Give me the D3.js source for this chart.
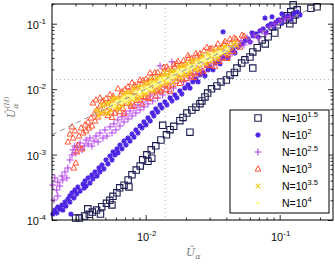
<!DOCTYPE html>
<html><head><meta charset="utf-8">
<script src="https://cdn.jsdelivr.net/npm/d3@7"></script>
<style>body{margin:0;background:#fff}svg{display:block}</style>
</head><body>
<svg id="c" width="335" height="277"></svg>
<script>
// ---- axes / labels ----
const xDomain = [0.002, 0.25];
const yDomain = [1e-4, 0.2];
const xMajorTicks = [0.01, 0.1];
const xMajorExp = ["-2", "-1"];
const yMajorTicks = [1e-4, 1e-3, 1e-2, 1e-1];
const yMajorExp = ["-4", "-3", "-2", "-1"];
const refValue = 0.014;             // dotted reference lines
const seriesExp = ["1.5", "2", "2.5", "3", "3.5", "4"];

// ---- data: [U_alpha, U_alpha^(H)] ----
const n15 = [[.190,.181],[.171,.172],[.126,.194],[.135,.163],[.121,.152],[.130,.136],[.115,.132],[.126,.114],[.110,.114],[.119,.0994],[.1005,.107],[.096,.096],[.088,.090],[.092,.072],[.082,.063],[.074,.0565],[.078,.049],[.068,.043],[.063,.037],[.060,.031],[.055,.028],[.052,.025],[.063,.021],[.048,.021],[.046,.018],[.0426,.0165],[.040,.0138],[.0365,.0129],[.034,.0112],[.031,.0101],[.029,.0087],[.0277,.0076],[.0263,.0066],[.0254,.0060],[.0237,.0053],[.0221,.0048],[.0203,.0043],[.0190,.0037],[.0180,.0033],[.0214,.0022],[.0162,.0027],[.0152,.0024],[.0134,.0028],[.0143,.0020],[.0130,.00167],[.0119,.00136],[.0110,.00118],[.0102,.00099],[.0095,.00083],[.0091,.00067],[.0085,.00058],[.0079,.00049],[.0074,.00041],[.0069,.00034],[.0064,.00031],[.0061,.00026],[.0057,.00023],[.0054,.00020],[.0051,.00018],[.0047,.00016],[.0043,.000142],[.0040,.000132],[.0038,.000122],[.0035,.000115],[.0032,.000107],[.0030,.000107],[.0104,.00079],[.0111,.00088],[.0075,.00032],[.0056,.00017],[.0046,.000123],[.0037,.000148]];

const n20 = [[.00203,1.23e-4],[.00210,1.42e-4],[.00217,1.28e-4],[.00221,1.58e-4],[.00229,1.47e-4],[.00237,1.69e-4],[.00241,1.42e-4],[.00250,1.88e-4],[.00254,1.63e-4],[.00263,2.09e-4],[.00272,1.88e-4],[.00272,2.33e-4],[.00282,2.59e-4],[.00291,2.17e-4],[.00296,2.87e-4],[.00306,2.50e-4],[.00312,3.19e-4],[.00324,2.77e-4],[.00341,3.54e-4],[.00347,3.08e-4],[.00353,3.95e-4],[.00359,3.30e-4],[.00372,4.39e-4],[.00384,3.67e-4],[.00397,4.87e-4],[.00404,4.24e-4],[.00419,5.42e-4],[.00433,4.70e-4],[.00448,6.24e-4],[.00456,5.42e-4],[.00277,1.23e-4],
[.00472,6.93e-4],[.00488,6.03e-4],[.00506,8.27e-4],[.00523,7.18e-4],[.00542,9.51e-4],[.00561,8.27e-4],[.00571,1.10e-3],[.00590,9.85e-4],[.00611,1.22e-3],[.00621,1.06e-3],[.00643,1.40e-3],[.00665,1.22e-3],[.00689,1.61e-3],[.00713,1.40e-3],[.00738,1.79e-3],[.00764,1.61e-3],[.00791,2.06e-3],[.00818,1.85e-3],[.00846,2.38e-3],[.00876,2.14e-3],[.00907,2.74e-3],[.00939,2.55e-3],[.00970,3.15e-3],[.01005,2.84e-3],[.0104,3.63e-3],[.0108,3.26e-3],
[.0112,4.32e-3],[.0115,3.89e-3],[.0119,4.98e-3],[.0123,4.48e-3],[.0128,5.73e-3],[.0132,5.16e-3],[.0139,6.37e-3],[.0144,5.73e-3],[.0152,7.34e-3],[.0157,6.60e-3],[.0165,8.15e-3],[.0171,7.34e-3],[.0180,9.39e-3],[.0186,8.44e-3],[.0196,1.04e-2],[.0207,1.16e-2],[.0214,1.04e-2],[.0225,1.29e-2],[.0237,1.43e-2],[.0246,1.29e-2],[.0254,1.65e-2],[.0268,1.77e-2],[.0277,1.59e-2],[.0292,1.97e-2],[.0302,2.19e-2],[.0318,1.97e-2],[.0329,2.52e-2],[.0346,2.70e-2],[.0359,2.43e-2],[.0378,3.00e-2],[.0391,3.33e-2],[.0412,3.00e-2],[.0426,3.70e-2],[.0449,3.97e-2],[.0464,3.57e-2],[.0488,4.42e-2],[.0506,4.74e-2],
[.0524,4.91e-2],[.0551,5.45e-2],[.0580,5.85e-2],[.0601,5.27e-2],[.0633,6.51e-2],[.0666,6.98e-2],[.0690,6.28e-2],[.0713,7.76e-2],[.0751,8.33e-2],[.0790,7.49e-2],[.0818,9.26e-2],[.0862,9.94e-2],[.0906,8.94e-2],[.0939,.106],[.0988,.114],[.104,.103],[.110,.122],[.115,.131],[.121,.118],[.128,.141],[.135,.151],[.142,.136],
[.0378,7.49e-2],[.0622,7.23e-2],[.0777,.122],[.104,.141],[.0877,.127]];

const n25 = [[.00203,3.42e-4],[.00210,4.39e-4],[.00217,2.87e-4],[.00221,3.80e-4],[.00229,3.30e-4],[.00237,4.70e-4],[.00241,4.09e-4],[.00250,5.42e-4],[.00258,4.39e-4],[.00263,6.24e-4],[.00272,8.27e-4],[.00282,9.85e-4],[.00287,1.18e-3],[.00296,1.35e-3],[.00301,1.06e-3],[.00312,1.27e-3],[.00324,1.50e-3],[.00335,1.18e-3],[.00347,1.35e-3],[.00359,1.67e-3],[.00372,1.45e-3],[.00384,1.79e-3],[.00397,1.35e-3],[.00412,1.61e-3],[.00426,1.92e-3],[.00441,1.56e-3],[.00456,2.14e-3],[.00480,1.79e-3],[.00207,2.02e-4],[.00221,2.33e-4],
[.00497,2.38e-3],[.00514,1.92e-3],[.00542,2.65e-3],[.00561,2.14e-3],[.00580,2.94e-3],[.00600,2.38e-3],[.00621,3.38e-3],[.00643,2.74e-3],[.00665,3.76e-3],[.00689,3.15e-3],[.00713,4.18e-3],[.00738,3.50e-3],[.00764,4.64e-3],[.00791,3.89e-3],[.00818,5.16e-3],[.00846,4.32e-3],[.00876,5.73e-3],[.00907,4.81e-3],[.00939,6.37e-3],[.00970,5.34e-3],[.01005,7.09e-3],[.0104,5.94e-3],[.0108,7.87e-3],[.0113,6.60e-3],[.0117,8.75e-3],[.0123,7.34e-3],[.0128,9.73e-3],[.0134,8.15e-3],[.0139,1.08e-2],[.0147,9.07e-3],[.0152,1.20e-2],[.0161,1.04e-2],[.0165,1.38e-2],
[.0174,1.38e-2],[.0183,1.59e-2],[.0192,1.29e-2],[.0203,1.77e-2],[.0214,1.48e-2],[.0225,1.97e-2],[.0237,1.71e-2],[.0250,2.27e-2],[.0263,1.90e-2],[.0277,2.52e-2],[.0292,2.19e-2],[.0307,2.80e-2],[.0324,2.43e-2],[.0341,3.21e-2],[.0359,2.80e-2],[.0378,3.70e-2],[.0398,3.21e-2],[.0419,4.11e-2],[.0441,3.57e-2],[.0464,4.74e-2],[.0488,4.42e-2],[.0515,5.45e-2],[.0542,4.74e-2],[.0570,6.06e-2],[.0601,5.27e-2],[.0644,6.74e-2],[.0690,6.06e-2],[.0738,7.76e-2],[.0790,6.98e-2],[.0847,8.94e-2],[.0923,9.94e-2],[.1005,.110],[.110,.118],[.119,.127],[.0128,2.27e-2],[.0157,2.61e-2]];

const n30 = [[.00263,1.56e-3],[.00272,2.06e-3],[.00282,2.65e-3],[.00287,1.79e-3],[.00296,2.30e-3],[.00301,7.44e-4],[.00306,1.10e-3],[.00312,1.40e-3],[.00318,1.92e-3],[.00330,2.55e-3],[.00341,2.14e-3],[.00353,2.84e-3],[.00359,2.30e-3],[.00372,3.15e-3],[.00378,2.55e-3],[.00391,3.63e-3],[.00397,2.74e-3],[.00412,4.18e-3],[.00419,3.26e-3],[.00433,4.81e-3],[.00441,3.76e-3],[.00456,5.53e-3],[.00472,4.32e-3],[.00488,5.94e-3],[.00404,6.15e-3],[.00426,6.84e-3],[.00456,7.34e-3],[.00480,6.60e-3],[.00291,6.24e-4],[.00335,1.22e-3],
[.00506,.00719],[.00523,.00395],[.00542,.00825],[.00561,.00369],[.00580,.00716],[.00600,.00503],[.00621,.01015],[.00643,.00453],[.00665,.00912],[.00689,.00422],[.00713,.00821],[.00738,.01086],[.00764,.00597],[.00791,.01248],[.00818,.00556],[.00846,.01081],[.00876,.00761],[.00907,.01381],[.00939,.00595],[.00970,.01156],[.01005,.01427],[.0104,.00758],[.0108,.01765],[.0112,.00907],[.0115,.01523],[.0119,.00782],[.0123,.01809],[.0128,.00966],[.0132,.01573],[.0137,.02162],[.0141,.00993],[.0147,.02015],[.0152,.00930],[.0157,.01937],[.0162,.02383],[.0168,.01314],[.0174,.02650],[.0180,.01224],[.0186,.02141],[.0192,.02726],[.0200,.01458],[.0207,.03266],[.0214,.01733],[.0221,.02926],[.0229,.01505],[.0237,.03486],[.0246,.02064],[.0254,.03482],[.0268,.01887],[.0286,.04356],[.0297,.02323],[.0313,.04144],[.0329,.02237],[.0346,.04913],[.0365,.02957],[.0385,.04920],[.0405,.02952],[.0426,.05840],[.0449,.03767],[.0472,.05824],[.0506,.04397],[.0542,.06461],
[.00514,.00463],[.00532,.00634],[.00551,.00446],[.00571,.00783],[.00590,.00430],[.00611,.00679],[.00632,.00549],[.00654,.00836],[.00677,.00511],[.00701,.00995],[.00725,.00608],[.00751,.00927],[.00777,.00547],[.00805,.00927],[.00832,.01141],[.00861,.00673],[.00891,.01180],[.00923,.00774],[.00955,.01356],[.00988,.00746],[.01023,.01262],[.01058,.00719],[.01099,.01507],[.01137,.00988],[.0117,.01782],[.01211,.00947],[.01253,.01494],[.01302,.00917],[.01348,.01785],[.0139,.01166],[.01439,.02192],[.01489,.01124],[.01546,.01718],[.01601,.01167],[.0165,.02185],[.01708,.02425],[.01767,.01483],[.01831,.02340],[.01895,.01431],[.0196,.02419],[.02029,.01763],[.02099,.02981],[.02176,.01586],[.02253,.02686],[.0233,.01822],[.02412,.03193],[.02495,.01756],[.02583,.03187],[.02720,.03862],[.02867,.02322],[.0302,.04140],[.03180,.02763],[.03346,.04276],[.03524,.02661],[.03716,.04430],[.0391,.05361],[.04117,.03335],[.04333,.04987],[.04562,.06040],[.04886,.05243],[.05237,.06693]];

const n35 = [[.00426,.00473],[.00448,.00389],[.00472,.00582],[.00488,.00455],[.00514,.00613],[.00533,.00432],[.00551,.00591],[.00571,.00730],[.00590,.00513],[.00611,.00703],[.00632,.00494],[.00654,.00678],[.00677,.00835],[.00701,.00631],[.00725,.00864],[.00751,.00608],[.00777,.00863],[.00805,.01029],[.00832,.00698],[.00861,.00924],[.00891,.00697],[.00923,.01100],[.00955,.00890],[.00988,.01219],[.0102,.00856],[.0106,.01178],[.0110,.01406],[.0113,.00982],[.0117,.01212],[.0121,.01493],[.0126,.01021],[.0130,.01496],[.0134,.01206],[.0139,.01776],[.0144,.01208],[.0149,.01599],[.0155,.01913],[.0160,.01251],[.0165,.01833],[.0171,.01594],[.0177,.02110],[.0183,.01482],[.0190,.02187],[.0196,.01764],[.0203,.02505],[.0210,.01762],[.0218,.02339],[.0225,.02682],[.0233,.02025],[.0241,.02678],[.0250,.02025],[.0263,.03027],[.0277,.02493],[.0292,.03481],[.0307,.02668],[.0324,.03600],[.0341,.02861],[.0359,.04132],[.0378,.03523],[.0398,.04422],[.0419,.03771],[.0449,.04818],[.0480,.04633],
[.00441,.00457],[.00464,.00432],[.00480,.00552],[.00506,.00425],[.00523,.00581],[.00542,.00488],[.00561,.00669],[.00580,.00560],[.00600,.00740],[.00621,.00540],[.00643,.00714],[.00665,.00558],[.00689,.00739],[.00713,.00880],[.00738,.00688],[.00764,.00879],[.00791,.00687],[.00818,.00975],[.00846,.00788],[.00876,.01081],[.00907,.00788],[.00939,.01043],[.00970,.00814],[.01005,.01041],[.0104,.01240],[.0108,.00972],[.0112,.01289],[.0115,.00932],[.0119,.01277],[.0123,.01466],[.0128,.01152],[.0132,.01629],[.0137,.01322],[.0141,.01623],[.0147,.01277],[.0152,.01812],[.0157,.01463],[.0162,.01865],[.0168,.01410],[.0174,.01803],[.0180,.02221],[.0186,.01674],[.0192,.02289],[.0200,.01620],[.0207,.02221],[.0214,.01926],[.0221,.02727],[.0229,.02210],[.0237,.01988],[.0246,.02831],[.0254,.02367],[.0268,.03307],[.0282,.02451],[.0297,.03300],[.0313,.02917],[.0329,.03922],[.0346,.03114],[.0365,.03916],[.0385,.04431],[.0405,.03519],[.0433,.04486],[.0464,.05155]];

const n40 = [[.00561,.00581],[.00590,.00550],[.00621,.00666],[.00654,.00631],[.00689,.00765],[.00725,.00676],[.00764,.00792],[.00805,.00725],[.00846,.00908],[.00891,.00860],[.00939,.01043],[.00988,.00921],[.0104,.01077],[.0110,.00990],[.0115,.01234],[.0121,.01168],[.0128,.01422],[.0134,.01249],[.0141,.01461],[.0149,.01341],[.0157,.01685],[.0165,.01592],[.0174,.01933],[.0183,.01706],[.0192,.01989],[.0203,.01892],[.0214,.02296],[.0225,.02171],[.0237,.02543],[.0250,.02330],[.0263,.02725],[.0277,.02673],[.0292,.03133],[.0307,.02861],[.0324,.03357],[.0341,.03291],[.0359,.03719],[.0385,.03715],[.0412,.0412],
[.00571,.00551],[.00600,.00644],[.00632,.00632],[.00665,.00689],[.00701,.00653],[.00738,.00792],[.00777,.00777],[.00818,.00789],[.00861,.00892],[.00907,.00845],[.00955,.00955],[.01005,.01078],[.01058,.01021],[.0112,.01160],[.0117,.01090],[.0123,.0123],[.01302,.01349],[.0137,.01470],[.01439,.01389],[.0152,.0152],[.01601,.01492],[.0168,.01740],[.01767,.01767],[.0186,.01996],[.0196,.01891],[.0207,.02145],[.02176,.02028],[.0229,.0229],[.02412,.02499],[.0254,.02451],[.0268,.02876],[.0282,.0282],[.0297,.02866],[.0313,.03243],[.0329,.0329],[.0346,.03585],[.03716,.03716],[.0398,.04123]];

// ---- drawing ----
const svg = d3.select("#c");
const M = {l: 52, r: 333, t: 4, b: 220};
const x = d3.scaleLog().domain(xDomain).range([M.l, M.r]);
const y = d3.scaleLog().domain(yDomain).range([M.b, M.t]);
const font = "'Liberation Sans', Arial, Helvetica, sans-serif";

svg.append("rect").attr("width", 335).attr("height", 277).attr("fill", "#fff");

// dotted reference lines
svg.append("line").attr("x1", x(refValue)).attr("x2", x(refValue)).attr("y1", M.t).attr("y2", M.b)
  .attr("stroke", "#b4b4b4").attr("stroke-dasharray", "1,3");
svg.append("line").attr("x1", M.l).attr("x2", M.r).attr("y1", y(refValue)).attr("y2", y(refValue))
  .attr("stroke", "#b4b4b4").attr("stroke-dasharray", "1,3");

// marker shapes
const shapes = {
  sq: "M-3.2,-3.2H3.2V3.2H-3.2Z",
  star: "M-2.7,0H2.7M0,-2.7V2.7M-1.9,-1.9L1.9,1.9M-1.9,1.9L1.9,-1.9",
  plus: "M-3.5,0H3.5M0,-3.5V3.5",
  tri: "M0,-3.2L2.9,2.1H-2.9Z",
  x: "M-2.3,-2.3L2.3,2.3M-2.3,2.3L2.3,-2.3",
  dot: null
};
const series = [
  {data: n15, shape: "sq",   color: "#1c1c50", sw: 1.1},
  {data: n20, shape: "star", color: "#4b22e2", sw: 1.3},
  {data: n25, shape: "plus", color: "#b43ae6", sw: 1},
  {data: n30, shape: "tri",  color: "#ff5533", sw: 1},
  {data: n35, shape: "x",    color: "#f7c81a", sw: 1.1},
  {data: n40, shape: "dot",  color: "#ffff86", sw: 0}
];

function drawMarkers(g, s, pts) {
  if (s.shape === "dot") {
    g.selectAll("circle").data(pts).join("circle")
      .attr("cx", d => d[0]).attr("cy", d => d[1]).attr("r", 1.6).attr("fill", s.color);
  } else {
    g.selectAll("path").data(pts).join("path")
      .attr("d", shapes[s.shape]).attr("transform", d => `translate(${d[0]},${d[1]})`)
      .attr("fill", "none").attr("stroke", s.color).attr("stroke-width", s.sw);
  }
}

series.forEach(s => {
  const g = svg.append("g");
  drawMarkers(g, s, s.data.map(d => [x(d[0]), y(d[1])]));
});

// y = x dashed line
svg.append("line").attr("x1", x(0.002)).attr("y1", y(0.002)).attr("x2", x(0.2)).attr("y2", y(0.2))
  .attr("stroke", "#8f8f8f").attr("stroke-width", 1).attr("stroke-dasharray", "5,4");

// ticks (inward) on all sides
const xMinor = x.ticks().filter(v => !xMajorTicks.some(m => Math.abs(m - v) / m < 1e-6));
const yMinor = y.ticks().filter(v => !yMajorTicks.some(m => Math.abs(m - v) / m < 1e-6));
function addAxis(axisFn, scale, vals, size, transform) {
  const g = svg.append("g").attr("transform", transform)
    .call(axisFn(scale).tickValues(vals).tickSize(-size).tickFormat(""));
  g.select(".domain").remove();
  g.selectAll("line").attr("stroke", "#000").attr("stroke-width", 0.8);
}
addAxis(d3.axisBottom, x, xMinor, 2.5, `translate(0,${M.b})`);
addAxis(d3.axisBottom, x, xMajorTicks, 5, `translate(0,${M.b})`);
addAxis(d3.axisTop, x, xMinor, 2.5, `translate(0,${M.t})`);
addAxis(d3.axisTop, x, xMajorTicks, 5, `translate(0,${M.t})`);
addAxis(d3.axisLeft, y, yMinor, 2.5, `translate(${M.l},0)`);
addAxis(d3.axisLeft, y, yMajorTicks, 5, `translate(${M.l},0)`);
addAxis(d3.axisRight, y, yMinor, 2.5, `translate(${M.r},0)`);
addAxis(d3.axisRight, y, yMajorTicks, 5, `translate(${M.r},0)`);

// frame
svg.append("rect").attr("x", M.l).attr("y", M.t).attr("width", M.r - M.l).attr("height", M.b - M.t)
  .attr("fill", "none").attr("stroke", "#000").attr("stroke-width", 1);

// tick labels
yMajorTicks.forEach((v, i) => {
  const t = svg.append("text").attr("x", M.l - 6).attr("y", y(v) + 5).attr("text-anchor", "end")
    .attr("font-family", font).attr("font-size", 11).attr("fill", "#111");
  t.append("tspan").text("10");
  t.append("tspan").attr("dy", -5).attr("font-size", 8).text(yMajorExp[i]);
});
xMajorTicks.forEach((v, i) => {
  const t = svg.append("text").attr("x", x(v) + 1).attr("y", 241).attr("text-anchor", "middle")
    .attr("font-family", font).attr("font-size", 11).attr("fill", "#111");
  t.append("tspan").text("10");
  t.append("tspan").attr("dy", -5).attr("font-size", 8).text(xMajorExp[i]);
});

// axis labels
const serif = "'DejaVu Serif', 'Liberation Serif', serif";
const xl = svg.append("text").attr("x", 186).attr("y", 256).attr("font-family", serif)
  .attr("font-style", "italic").attr("font-size", 11).attr("fill", "#7a7a7a");
xl.append("tspan").text("Û");
xl.append("tspan").attr("dy", 3).attr("font-size", 8).text("α");

const yl = svg.append("text").attr("transform", "translate(15,118) rotate(-90)")
  .attr("font-family", serif).attr("font-style", "italic").attr("font-size", 11).attr("fill", "#7a7a7a");
yl.append("tspan").text("Û");
yl.append("tspan").attr("dy", 3).attr("font-size", 8).text("α");
yl.append("tspan").attr("dx", -5).attr("dy", -9).attr("font-size", 7).text("(H)");

// legend
const L = {x: 230, y: 110, w: 99, h: 103};
svg.append("rect").attr("x", L.x).attr("y", L.y).attr("width", L.w).attr("height", L.h)
  .attr("fill", "#fff").attr("stroke", "#000").attr("stroke-width", 1);
series.forEach((s, i) => {
  const cy = L.y + 8 + i * 17;
  const g = svg.append("g");
  drawMarkers(g, s, [[258, cy]]);
  const t = svg.append("text").attr("x", 282).attr("y", cy + 4).attr("font-family", font)
    .attr("font-size", 10.5).attr("fill", "#000");
  t.append("tspan").text("N=10");
  t.append("tspan").attr("dy", -5).attr("font-size", 7.5).text(seriesExp[i]);
});
</script>
</body></html>
